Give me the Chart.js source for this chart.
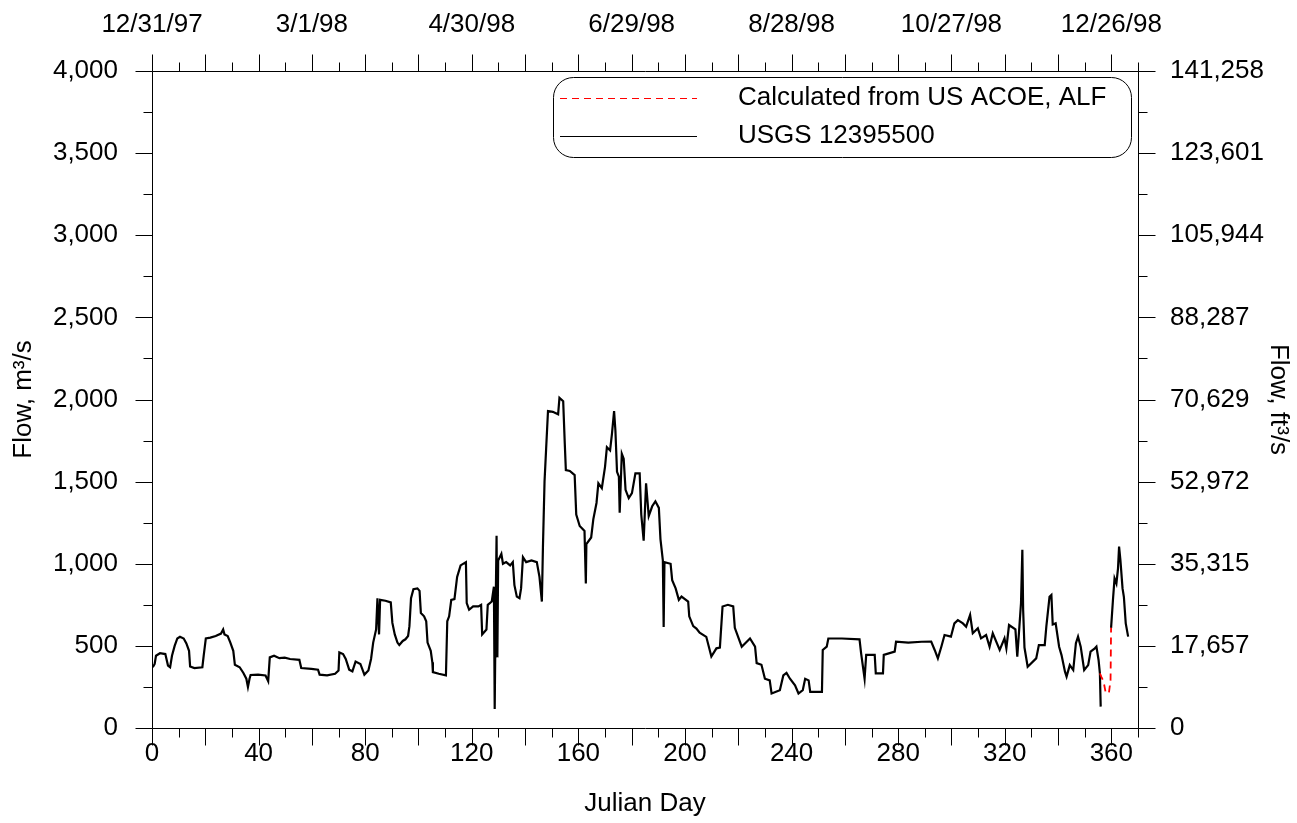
<!DOCTYPE html>
<html>
<head>
<meta charset="utf-8">
<title>Flow 1998</title>
<script src="https://cdn.jsdelivr.net/npm/chart.js@4.4.1/dist/chart.umd.min.js"></script>
<style>
    html, body { margin: 0; padding: 0; background: #fff; }
    #wrap { width: 1297px; height: 823px; }
</style>
</head>
<body>
<div id="wrap"><canvas id="flowChart" width="1297" height="823"></canvas></div>
<script>
// --- Data ---
const usgsDay = [
    0.3, 1, 1.5, 3, 5, 6, 6.8, 7.5, 8.5, 9.5,
    10.5, 11.9, 12.9, 13.9, 14.3, 15.9, 18.9, 19.4, 20.2, 21.9,
    23.9, 25.9, 26.7, 27.2, 28.4, 29.4, 30.5, 31.1, 32.9, 34.3,
    35.4, 36.0, 36.6, 37.0, 39.8, 42.6, 43.6, 44.2, 45.8, 47.8,
    49.8, 51.8, 55.3, 56.0, 59.8, 62.3, 62.9, 65.7, 68.7, 70.0,
    70.3, 71.7, 72.7, 74.0, 75.2, 76.4, 78.2, 79.7, 81.2, 82.2,
    83.0, 84.1, 84.6, 85.2, 85.6, 87.6, 89.6, 90.2, 91.1, 92.1,
    92.8, 94.1, 95.1, 96.1, 96.6, 97.2, 98.1, 99.6, 100.4, 100.9,
    102.1, 102.9, 103.4, 104.6, 105.2, 105.4, 107.6, 110.3, 110.8, 111.5,
    112.3, 113.5, 114.5, 115.8, 117.8, 118.1, 119.0, 120.5, 122.5, 123.5,
    123.9, 125.5, 126.0, 127.5, 128.3, 128.6, 129.0, 129.3, 129.6, 129.9,
    131.1, 131.7, 132.9, 134.4, 135.4, 136.0, 136.9, 137.9, 138.5, 139.2,
    140.4, 142.4, 144.4, 145.4, 146.3, 146.7, 147.3, 147.9, 148.6, 150.4,
    152.4, 152.9, 154.3, 154.9, 155.3, 156.8, 158.6, 159.2, 160.5, 162.3,
    162.8, 163.0, 164.8, 165.6, 166.8, 167.5, 168.8, 170.0, 170.7, 171.9,
    172.6, 173.4, 173.9, 174.5, 175.2, 175.5, 176.3, 177.0, 177.7, 178.9,
    180.1, 181.4, 183.0, 183.6, 184.5, 185.4, 186.4, 187.7, 188.9, 190.2,
    190.8, 191.7, 192.0, 192.3, 194.6, 195.2, 196.5, 197.7, 198.7, 201.2,
    201.6, 203.1, 204.3, 205.5, 208.0, 209.9, 211.8, 213.1, 214.1, 216.1,
    218.1, 218.7, 221.3, 224.4, 226.3, 226.9, 228.7, 230.0, 231.8, 232.5,
    235.6, 236.9, 238.1, 239.4, 241.3, 242.6, 244.2, 245.1, 246.4, 247.0,
    251.4, 251.7, 253.2, 253.8, 258.9, 265.5, 266.1, 267.4, 268.0, 271.2,
    271.6, 274.3, 274.6, 278.7, 279.2, 283.8, 288.8, 292.4, 293.7, 294.9,
    296.2, 297.4, 299.8, 301.1, 302.4, 304.3, 305.5, 307.0, 308.0, 309.9,
    311.1, 313.0, 314.3, 315.5, 318.1, 319.9, 320.6, 321.6, 324.0, 324.7,
    325.5, 326.1, 326.6, 326.9, 327.4, 328.6, 331.8, 332.8, 335.0, 335.6,
    336.8, 337.5, 338.0, 339.1, 340.4, 341.3, 342.6, 343.2, 344.4, 345.7,
    346.7, 347.5, 348.5, 349.8, 351.3, 352.2, 353.8, 354.4, 355.2, 355.7,
    356.0, 358.0, 359.9, 360.6, 361.2, 361.9, 362.5, 362.9, 363.4, 364.2,
    364.7, 365.4, 366.3
];
const usgsFlow = [
    370, 390, 440, 455, 450, 380, 370, 440, 500, 545,
    555, 545, 515, 470, 375, 365, 370, 440, 545, 550,
    560, 575, 600, 570, 560, 520, 470, 385, 370, 335,
    300, 250, 300, 323, 325, 320, 285, 430, 440, 425,
    428, 420, 415, 365, 360, 355, 325, 320, 330, 350,
    460, 450, 420, 355, 345, 405, 390, 325, 350, 420,
    520, 600, 790, 570, 780, 775, 765, 640, 570, 520,
    505, 530, 540, 560, 620, 790, 845, 850, 835, 700,
    680, 650, 520, 470, 400, 340, 330, 320, 650, 680,
    780, 785, 920, 990, 1010, 760, 720, 740, 740, 750,
    570, 600, 750, 770, 860, 115, 780, 1170, 430, 1020,
    1060, 1000, 1010, 990, 1010, 870, 800, 790, 850, 1040,
    1010, 1020, 1010, 920, 770, 1100, 1500, 1700, 1930, 1925,
    1910, 2010, 1990, 1730, 1570, 1565, 1540, 1300, 1230, 1200,
    880, 1120, 1160, 1270, 1370, 1490, 1460, 1590, 1710, 1690,
    1790, 1930, 1810, 1560, 1530, 1310, 1670, 1640, 1450, 1400,
    1430, 1550, 1550, 1300, 1140, 1490, 1290, 1350, 1380, 1340,
    1150, 1020, 615, 1010, 1000, 900, 850, 780, 800, 770,
    680, 620, 605, 580, 555, 435, 485, 490, 740, 750,
    740, 610, 495, 545, 495, 395, 385, 300, 290, 210,
    230, 320, 335, 300, 260, 210, 230, 300, 290, 220,
    220, 475, 495, 545, 545, 540, 455, 300, 445, 445,
    333, 333, 445, 465, 525, 520, 525, 526, 475, 424,
    495, 566, 556, 637, 657, 637, 617, 688, 577, 607,
    546, 566, 495, 577, 475, 546, 485, 627, 600, 434,
    620, 760, 1085, 720, 490, 373, 424, 505, 505, 617,
    799, 810, 630, 637, 495, 444, 343, 313, 383, 353,
    516, 556, 495, 353, 383, 465, 485, 495, 414, 333,
    130, null, 610, 779, 911, 880, 972, 1104, 1023, 850,
    799, 637, 556
];
const acoeDay = [355.7, 356.3, 357.1, 357.8, 358.5, 359.1, 359.7, 359.9];
const acoeFlow = [333, 310, 282, 221, 210, 215, 292, 610];

const dateTickDays = [0, 60, 120, 180, 240, 300, 360];
const dateLabels = ['12/31/97', '3/1/98', '4/30/98', '6/29/98', '8/28/98', '10/27/98', '12/26/98'];
const cfsLabels = ['0', '17,657', '35,315', '52,972', '70,629', '88,287', '105,944', '123,601', '141,258'];

const FONT = { family: "'Liberation Sans', Arial, sans-serif", size: 26 };

function zip(xs, ys) {
    return xs.map((x, i) => ({ x: x, y: ys[i] }));
}

// --- Axes frame + tick marks (long/short like the original plot) ---
const frameTicks = {
    id: 'frameTicks',
    afterDraw(chart) {
        const { ctx, chartArea: a, scales } = chart;
        ctx.save();
        ctx.strokeStyle = '#000';
        ctx.lineWidth = 1;
        ctx.beginPath();
        const L = Math.round(a.left) + 0.5, R = Math.round(a.right) + 0.5;
        const T = Math.round(a.top) + 0.5, B = Math.round(a.bottom) + 0.5;
        ctx.moveTo(L, T); ctx.lineTo(R, T); ctx.lineTo(R, B); ctx.lineTo(L, B); ctx.closePath();
        for (let d = 0; d <= 370; d += 10) {
            const px = Math.round(scales.x.getPixelForValue(d)) + 0.5;
            const len = d % 20 === 0 ? 17 : 9;
            ctx.moveTo(px, B); ctx.lineTo(px, B + len);
            ctx.moveTo(px, T); ctx.lineTo(px, T - len);
        }
        for (let v = 0; v <= 4000; v += 250) {
            const py = Math.round(scales.y.getPixelForValue(v)) + 0.5;
            const len = v % 500 === 0 ? 17 : 9;
            ctx.moveTo(L, py); ctx.lineTo(L - len, py);
            ctx.moveTo(R, py); ctx.lineTo(R + len, py);
        }
        ctx.stroke();
        ctx.restore();
    }
};

// --- Legend in a rounded box, top right of the plot ---
const boxLegend = {
    id: 'boxLegend',
    afterDraw(chart) {
        const { ctx, chartArea: a } = chart;
        const x0 = a.right - 585, y0 = a.top + 6, w = 578, h = 80, r = 20;
        ctx.save();
        ctx.fillStyle = '#fff';
        ctx.strokeStyle = '#000';
        ctx.lineWidth = 1;
        ctx.beginPath();
        ctx.roundRect(x0 + 0.5, y0 + 0.5, w, h, r);
        ctx.fill();
        ctx.stroke();
        ctx.font = FONT.size + 'px ' + FONT.family;
        ctx.textBaseline = 'middle';
        ctx.fillStyle = '#000';
        chart.data.datasets.forEach((ds, i) => {
            const yy = y0 + 21 + i * 38;
            ctx.beginPath();
            ctx.strokeStyle = ds.borderColor;
            ctx.lineWidth = 1.2;
            ctx.setLineDash(ds.borderDash || []);
            ctx.moveTo(x0 + 7, yy + 0.5);
            ctx.lineTo(x0 + 144, yy + 0.5);
            ctx.stroke();
            ctx.setLineDash([]);
            ctx.fillText(ds.label, x0 + 185, yy);
        });
        ctx.restore();
    }
};

new Chart(document.getElementById('flowChart'), {
    type: 'line',
    data: {
        datasets: [
            {
                label: 'Calculated from US ACOE, ALF',
                data: zip(acoeDay, acoeFlow),
                borderColor: '#ff0000',
                borderDash: [7, 5],
                borderWidth: 1.8,
                pointRadius: 0,
                tension: 0
            },
            {
                label: 'USGS 12395500',
                data: zip(usgsDay, usgsFlow),
                borderColor: '#000000',
                borderWidth: 2.2,
                pointRadius: 0,
                tension: 0,
                spanGaps: false
            }
        ]
    },
    options: {
        responsive: false,
        animation: false,
        devicePixelRatio: 1,
        layout: { padding: 0 },
        plugins: { legend: { display: false }, tooltip: { enabled: false } },
        scales: {
            x: {
                type: 'linear', position: 'bottom', min: 0, max: 370,
                grid: { display: false, drawTicks: false }, border: { display: false },
                ticks: {
                    stepSize: 10, autoSkip: false, maxRotation: 0, padding: 10,
                    color: '#000', font: FONT,
                    callback: v => (v % 40 === 0 ? v : '')
                },
                title: { display: true, text: 'Julian Day', color: '#000', font: FONT, padding: { top: 0, bottom: 4 } },
                afterFit: s => { s.height = 95; }
            },
            x2: {
                type: 'linear', position: 'top', min: 0, max: 370,
                grid: { display: false, drawTicks: false }, border: { display: false },
                afterBuildTicks: s => { s.ticks = dateTickDays.map(v => ({ value: v })); },
                ticks: {
                    autoSkip: false, maxRotation: 0, padding: 31, color: '#000', font: FONT,
                    callback: v => dateLabels[dateTickDays.indexOf(v)]
                },
                afterFit: s => { s.height = 71; }
            },
            y: {
                type: 'linear', position: 'left', min: 0, max: 4000,
                grid: { display: false, drawTicks: false }, border: { display: false },
                ticks: {
                    stepSize: 500, padding: 34, color: '#000', font: FONT,
                    callback: v => v.toLocaleString('en-US')
                },
                title: { display: true, text: 'Flow, m³/s', color: '#000', font: FONT, padding: { top: 8, bottom: 0 } },
                afterFit: s => { s.width = 152; }
            },
            y2: {
                type: 'linear', position: 'right', min: 0, max: 4000,
                grid: { display: false, drawTicks: false }, border: { display: false },
                ticks: {
                    stepSize: 500, padding: 32, color: '#000', font: FONT,
                    callback: v => cfsLabels[v / 500]
                },
                title: { display: true, text: 'Flow, ft³/s', color: '#000', font: FONT, padding: { top: 3, bottom: 0 } },
                afterFit: s => { s.width = 159; }
            }
        }
    },
    plugins: [frameTicks, boxLegend]
});
</script>
</body>
</html>
